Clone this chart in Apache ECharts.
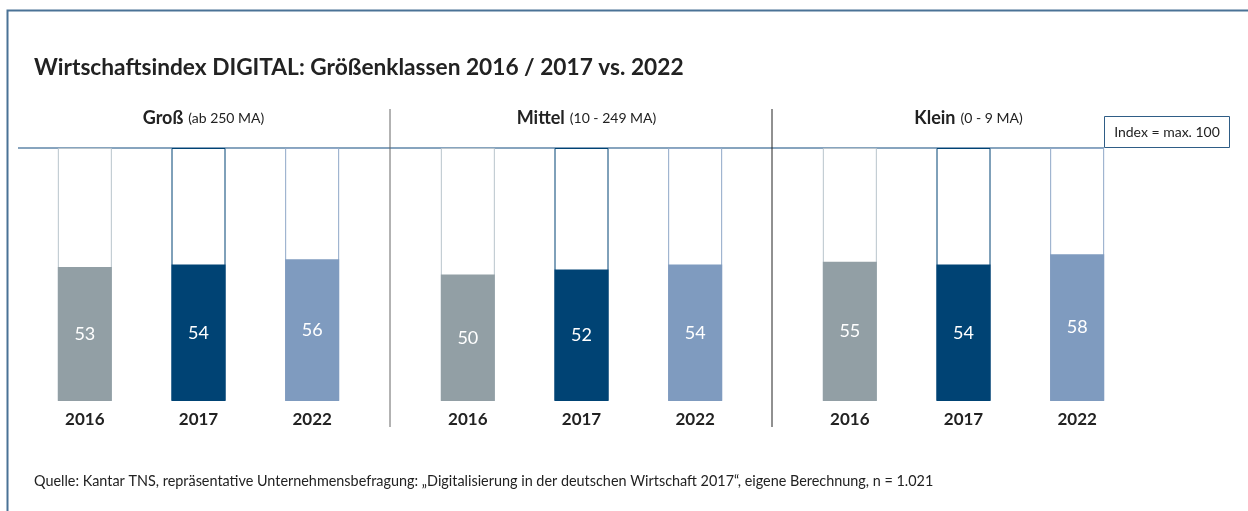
<!DOCTYPE html>
<html>
<head>
<meta charset="utf-8">
<script src="https://cdn.jsdelivr.net/npm/echarts@6/dist/echarts.min.js"></script>
<style>
  html, body { margin: 0; padding: 0; background: #fff; }
  #chart { width: 1248px; height: 511px; }
</style>
</head>
<body>
<div id="chart"></div>
<script>
// Daten
const years = ['2016', '2017', '2022']
const groupNames = ['Groß', 'Mittel', 'Klein']
const groupNotes = ['(ab 250 MA)', '(10 - 249 MA)', '(0 - 9 MA)']
const grossValues = [53, 54, 56]
const mittelValues = [50, 52, 54]
const kleinValues = [55, 54, 58]
const maxIndex = [100, 100, 100]

const groupValues = [grossValues, mittelValues, kleinValues]
const barColors = ['#929fa5', '#004374', '#7f9bbf']
const frameColors = ['#b9c4cc', '#004374', '#8fa8c8']
const fontFamily = 'Lato, "Noto Sans", sans-serif'

// Gitter je Größenklasse
const grids = [
  { left: 28, width: 341 },
  { left: 411, width: 341 },
  { left: 793, width: 341 }
].map(g => ({ left: g.left, width: g.width, top: 148, bottom: 110 }))

const xAxes = grids.map((g, i) => ({
  type: 'category',
  gridIndex: i,
  data: years,
  axisLine: { show: false },
  axisTick: { show: false },
  axisLabel: {
    margin: 10,
    fontFamily,
    fontWeight: 'bold',
    fontSize: 17,
    color: '#222'
  }
}))
const yAxes = grids.map((g, i) => ({
  type: 'value',
  gridIndex: i,
  min: 0,
  max: 100,
  show: false
}))

const series = []
groupValues.forEach((vals, i) => {
  // Rahmen bis max. 100
  series.push({
    type: 'bar',
    xAxisIndex: i,
    yAxisIndex: i,
    barWidth: 54,
    barGap: '-100%',
    silent: true,
    data: maxIndex.map((v, j) => ({
      value: v,
      itemStyle: { color: '#fff', borderColor: frameColors[j], borderWidth: 1 }
    }))
  })
  series.push({
    type: 'bar',
    xAxisIndex: i,
    yAxisIndex: i,
    barWidth: 54,
    barGap: '-100%',
    data: vals.map((v, j) => ({ value: v, itemStyle: { color: barColors[j] } })),
    label: {
      show: true,
      position: 'inside',
      color: '#fff',
      fontFamily,
      fontSize: 18
    }
  })
})

// Überschriften der Gruppen
const groupTitles = groupNames.map((name, i) => ({
  text: '{b|' + name + '} {n|' + groupNotes[i] + '}',
  left: grids[i].left + grids[i].width / 2,
  top: 104,
  textAlign: 'center',
  textStyle: {
    fontWeight: 'normal',
    rich: {
      b: { fontFamily, fontWeight: 'bold', fontSize: 18, color: '#222' },
      n: { fontFamily, fontWeight: 'normal', fontSize: 14, color: '#222' }
    }
  }
}))

const chart = echarts.init(document.getElementById('chart'))
chart.setOption({
  animation: false,
  title: [
    {
      text: 'Wirtschaftsindex DIGITAL: Größenklassen 2016 / 2017 vs. 2022',
      left: 29,
      top: 51,
      textStyle: { fontFamily, fontWeight: 'bold', fontSize: 22.7, color: '#222' }
    },
    {
      text: 'Quelle: Kantar TNS, repräsentative Unternehmensbefragung: „Digitalisierung in der deutschen Wirtschaft 2017“, eigene Berechnung, n = 1.021',
      left: 29,
      top: 469,
      textStyle: { fontFamily, fontWeight: 'normal', fontSize: 14.4, color: '#222' }
    },
    ...groupTitles
  ],
  grid: grids,
  xAxis: xAxes,
  yAxis: yAxes,
  series,
  graphic: [
    // Rahmen
    { type: 'rect', silent: true, shape: { x: 7.5, y: 10.5, width: 1260, height: 520 },
      style: { fill: 'none', stroke: '#4a7296', lineWidth: 2 } },
    // Grundlinie oben
    { type: 'line', silent: true, shape: { x1: 18, y1: 148, x2: 1104, y2: 148 },
      style: { stroke: '#5f86a8', lineWidth: 1.5 } },
    // Trennlinien
    { type: 'line', silent: true, shape: { x1: 390, y1: 109, x2: 390, y2: 427 },
      style: { stroke: '#666', lineWidth: 1 } },
    { type: 'line', silent: true, shape: { x1: 772, y1: 109, x2: 772, y2: 427 },
      style: { stroke: '#222', lineWidth: 1 } },
    // Index-Box
    { type: 'rect', silent: true, shape: { x: 1104.5, y: 116.5, width: 125, height: 31 },
      style: { fill: '#fff', stroke: '#2f5d86', lineWidth: 1 } },
    { type: 'text', silent: true, x: 1167, y: 132,
      style: { text: 'Index = max. 100', fontFamily, fontSize: 14, fill: '#222',
        align: 'center', verticalAlign: 'middle' } }
  ]
})
</script>
</body>
</html>
